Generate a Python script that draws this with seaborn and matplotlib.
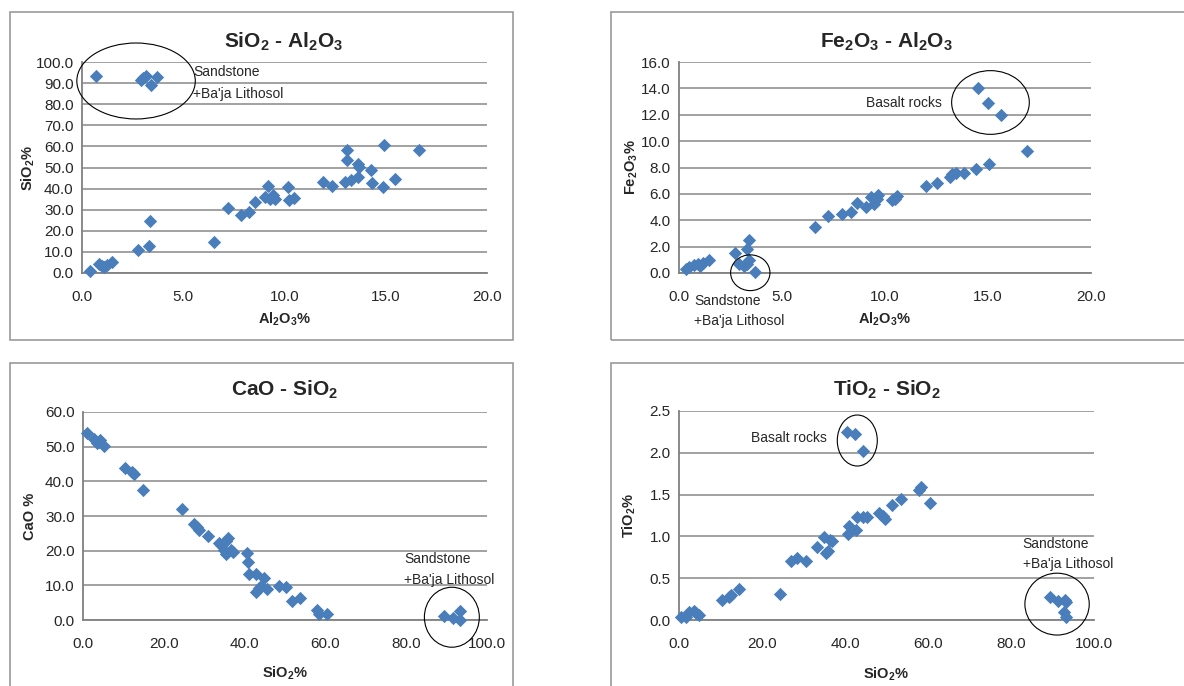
"""Oxide scatter panels: SiO2, Fe2O3, CaO and TiO2 against Al2O3 / SiO2."""

from __future__ import annotations

import matplotlib

matplotlib.use("Agg")
import matplotlib.pyplot as plt
import numpy as np
import pandas as pd
import seaborn as sns
from matplotlib.patches import Ellipse, Rectangle


# SiO2 vs Al2O3
P1_AL2O3 = [0.7, 2.9, 3.0, 3.15, 3.4, 3.7, 0.4, 0.85, 1.0, 1.1, 1.25, 1.5, 2.75, 3.3,
            3.35, 6.5, 7.2, 7.85, 8.25, 8.55, 9.05, 9.2, 9.3, 9.45, 9.55, 10.15, 10.2,
            10.45, 11.9, 12.35, 13.1, 13.1, 13.0, 13.3, 13.65, 13.7, 13.65, 14.25, 14.3,
            14.85, 14.9, 15.45, 16.65]
P1_SIO2 = [93.2, 91.5, 92.6, 93.3, 89.3, 92.9, 1.1, 4.4, 3.3, 2.8, 4.0, 5.1, 10.8, 12.7,
           24.6, 14.7, 30.8, 27.3, 28.8, 33.8, 35.8, 41.1, 35.2, 36.8, 35.0, 40.8, 34.5,
           35.7, 43.1, 41.2, 58.1, 53.5, 43.1, 44.1, 51.7, 50.1, 45.5, 48.7, 42.7,
           40.8, 60.5, 44.7, 58.3]

# Fe2O3 vs Al2O3
P2_AL2O3 = [0.35, 0.5, 0.75, 0.9, 1.0, 1.15, 1.45, 2.7, 2.9, 3.15, 3.3, 3.4, 3.3, 3.4,
            3.7, 6.6, 7.25, 7.9, 8.35, 8.65, 9.1, 9.3, 9.45, 9.6, 9.65, 10.35, 10.5,
            10.6, 12.0, 12.5, 13.15, 13.25, 13.45, 13.85, 14.4, 15.05, 16.9, 14.5, 15.0,
            15.65]
P2_FE2O3 = [0.3, 0.45, 0.6, 0.65, 0.5, 0.75, 0.95, 1.55, 0.65, 0.55, 0.7, 0.95, 1.85, 2.5,
            0.1, 3.5, 4.3, 4.45, 4.6, 5.3, 5.0, 5.75, 5.25, 5.6, 5.95, 5.5, 5.6, 5.85,
            6.6, 6.85, 7.3, 7.5, 7.6, 7.55, 7.9, 8.25, 9.25, 14.0, 12.9, 11.95]

# CaO vs SiO2
P3_SIO2 = [1.0, 2.6, 3.5, 3.9, 4.3, 5.1, 10.5, 12.1, 12.7, 14.8, 24.6, 27.4, 28.2, 28.8,
           30.9, 33.6, 34.2, 35.0, 35.5, 35.3, 35.9, 36.7, 37.1, 40.7, 40.8, 41.0, 42.8,
           44.7, 42.7, 43.5, 44.1, 45.5, 48.6, 50.2, 51.7, 53.6, 57.9, 58.3, 60.4, 89.3,
           91.6, 93.4, 93.2]
P3_CAO = [54.0, 52.1, 51.2, 51.4, 51.8, 50.3, 43.8, 42.7, 42.2, 37.6, 32.0, 27.8, 26.8,
          25.9, 24.2, 22.2, 21.5, 20.3, 19.1, 22.9, 23.6, 20.1, 19.6, 19.3, 16.7, 13.4,
          13.4, 12.2, 8.1, 9.2, 9.9, 9.0, 9.7, 9.5, 5.5, 6.4, 2.8, 1.6, 1.8, 1.2, 0.7,
          2.6, 0.0]

# TiO2 vs SiO2
P4_SIO2 = [0.6, 1.6, 2.4, 3.6, 4.2, 4.8, 10.3, 12.1, 12.5, 14.5, 24.4, 27.1, 28.4, 30.7,
           33.3, 34.9, 35.4, 35.8, 36.4, 36.9, 40.7, 41.0, 42.7, 42.9, 44.3, 45.3, 48.3,
           49.1, 49.7, 51.4, 53.4, 57.8, 58.2, 60.4, 40.5, 42.5, 44.4, 89.4, 91.4, 93.0,
           93.2, 92.8, 93.2]
P4_TIO2 = [0.03, 0.04, 0.1, 0.11, 0.08, 0.06, 0.24, 0.27, 0.3, 0.37, 0.31, 0.70, 0.74,
           0.70, 0.87, 0.99, 0.80, 0.83, 0.96, 0.94, 1.03, 1.12, 1.08, 1.23, 1.23, 1.23,
           1.28, 1.25, 1.21, 1.38, 1.45, 1.56, 1.59, 1.40, 2.25, 2.22, 2.02, 0.28, 0.23,
           0.24, 0.22, 0.10, 0.03]

W, H = 1184, 686
BLUE = "#4a7ebb"
GRID = "#888888"
SANDSTONE = "Sandstone"
LITHOSOL = "+Ba'ja Lithosol"
BASALT = "Basalt rocks"


def add_axes_px(fig, left, top, right, bottom):
    return fig.add_axes([left / W, 1 - bottom / H, (right - left) / W, (bottom - top) / H])


def add_border(fig, left, top, right, bottom):
    fig.add_artist(Rectangle((left / W, 1 - bottom / H), (right - left) / W,
                             (bottom - top) / H, transform=fig.transFigure,
                             fill=False, edgecolor="#9a9a9a", linewidth=1.2))


def draw_panel(ax, x, y, xmax, xstep, ymax, ystep, xlabel, ylabel, ylab_x, xlab_y):
    df = pd.DataFrame({"x": x, "y": y})
    sns.scatterplot(data=df, x="x", y="y", ax=ax, marker="D", s=46, color=BLUE,
                    linewidth=0, clip_on=False, zorder=3)
    ax.set_xlim(0, xmax)
    ax.set_ylim(0, ymax)
    ax.set_xticks(np.arange(0, xmax + xstep / 2, xstep))
    ax.set_yticks(np.arange(0, ymax + ystep / 2, ystep))
    ax.xaxis.set_major_formatter("{x:.1f}")
    ax.yaxis.set_major_formatter("{x:.1f}")
    ax.tick_params(axis="x", length=0, pad=12, labelsize=11)
    ax.tick_params(axis="y", length=0, pad=6, labelsize=11)
    ax.grid(axis="y", color=GRID, linewidth=1.1)
    ax.grid(axis="x", visible=False)
    ax.set_axisbelow(True)
    for side in ("top", "right"):
        ax.spines[side].set_visible(False)
    for side in ("left", "bottom"):
        ax.spines[side].set_color("#808080")
        ax.spines[side].set_linewidth(1.3)
    ax.set_xlabel(xlabel, fontsize=10.5, fontweight="bold")
    ax.set_ylabel(ylabel, fontsize=10.5, fontweight="bold")
    ax.xaxis.set_label_coords(0.5, xlab_y)
    ax.yaxis.set_label_coords(ylab_x, 0.5)


def note(ax, x, y, text):
    ax.text(x, y, text, ha="left", va="center", fontsize=10, clip_on=False)


def ring(ax, cx, cy, w, h):
    ax.add_patch(Ellipse((cx, cy), w, h, fill=False, edgecolor="black",
                         linewidth=0.8, clip_on=False, zorder=4))


def main() -> None:
    sns.set_style("white")
    plt.rcParams["font.family"] = ["Liberation Sans", "DejaVu Sans"]
    plt.rcParams["mathtext.fontset"] = "custom"
    plt.rcParams["mathtext.rm"] = "Liberation Sans"
    plt.rcParams["mathtext.bf"] = "Liberation Sans:bold"

    fig = plt.figure(figsize=(W / 100, H / 100), dpi=100)
    fig.patch.set_facecolor("white")

    add_border(fig, 10, 12, 513, 340)
    add_border(fig, 611, 12, 1210, 340)
    add_border(fig, 10, 363, 513, 710)
    add_border(fig, 611, 363, 1210, 710)

    ax1 = add_axes_px(fig, 82, 62, 487, 273)
    ax2 = add_axes_px(fig, 679, 62, 1091, 273)
    ax3 = add_axes_px(fig, 83, 412, 487, 620)
    ax4 = add_axes_px(fig, 679, 411, 1094, 620)

    draw_panel(ax1, P1_AL2O3, P1_SIO2, 20, 5, 100, 10,
               r"Al$_\mathbf{2}$O$_\mathbf{3}$%", r"SiO$_\mathbf{2}$%", -0.11, -0.175)
    draw_panel(ax2, P2_AL2O3, P2_FE2O3, 20, 5, 16, 2,
               r"Al$_\mathbf{2}$O$_\mathbf{3}$%", r"Fe$_\mathbf{2}$O$_\mathbf{3}$%",
               -0.095, -0.175)
    draw_panel(ax3, P3_SIO2, P3_CAO, 100, 20, 60, 10,
               r"SiO$_\mathbf{2}$%", "CaO %", -0.115, -0.215)
    draw_panel(ax4, P4_SIO2, P4_TIO2, 100, 20, 2.5, 0.5,
               r"SiO$_\mathbf{2}$%", r"TiO$_\mathbf{2}$%", -0.098, -0.215)

    titles = [
        (284, 47, r"SiO$_\mathbf{2}$ - Al$_\mathbf{2}$O$_\mathbf{3}$"),
        (886, 47, r"Fe$_\mathbf{2}$O$_\mathbf{3}$ - Al$_\mathbf{2}$O$_\mathbf{3}$"),
        (285, 395, r"CaO - SiO$_\mathbf{2}$"),
        (887, 395, r"TiO$_\mathbf{2}$ - SiO$_\mathbf{2}$"),
    ]
    for x, y, text in titles:
        fig.text(x / W, 1 - y / H, text, ha="center", va="baseline",
                 fontsize=15, fontweight="bold")

    # panel annotations (data coordinates)
    ring(ax1, 2.67, 91.0, 5.85, 36.0)
    note(ax1, 5.5, 95.3, SANDSTONE)
    note(ax1, 5.5, 84.8, LITHOSOL)

    ring(ax2, 15.12, 12.93, 3.77, 4.83)
    note(ax2, 9.1, 12.9, BASALT)
    ring(ax2, 3.46, 0.02, 1.91, 2.71)
    note(ax2, 0.73, -2.15, SANDSTONE)
    note(ax2, 0.73, -3.65, LITHOSOL)

    ring(ax3, 91.3, 0.8, 13.6, 17.3)
    note(ax3, 79.5, 17.6, SANDSTONE)
    note(ax3, 79.5, 11.5, LITHOSOL)

    ring(ax4, 42.96, 2.147, 9.64, 0.61)
    note(ax4, 17.3, 2.18, BASALT)
    ring(ax4, 91.1, 0.19, 15.5, 0.74)
    note(ax4, 82.8, 0.91, SANDSTONE)
    note(ax4, 82.8, 0.67, LITHOSOL)

    fig.savefig("out.png", dpi=100)
    plt.close(fig)


if __name__ == "__main__":
    main()
